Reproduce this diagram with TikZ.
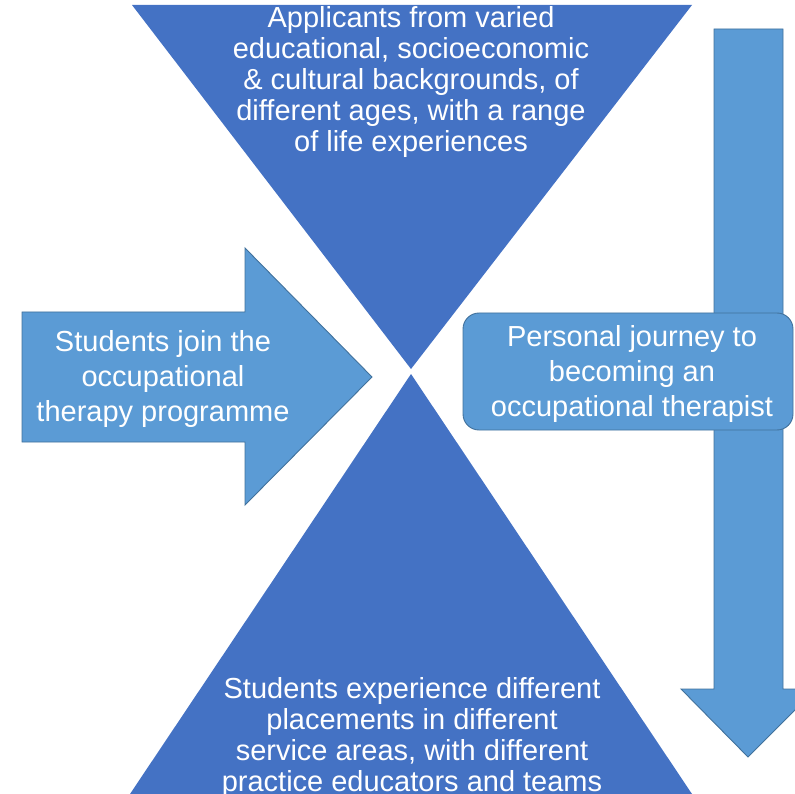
\documentclass[tikz,border=0pt]{standalone}
\usepackage{fontspec}
\setmainfont{Liberation Sans}
\definecolor{tribl}{HTML}{4472C4}
\definecolor{arrbl}{HTML}{5B9BD5}
\definecolor{edgebl}{HTML}{41719C}

\begin{document}
\begin{tikzpicture}[
  x=1pt, y=-1pt,
  tri/.style={fill=tribl},
  arr/.style={fill=arrbl, draw=edgebl, line width=0.9pt, line join=miter},
  tlbl/.style={text=white, align=center, font=\fontsize{29}{31}\selectfont},
  albl/.style={text=white, align=center, font=\fontsize{29}{35}\selectfont},
]
\useasboundingbox (0,0) rectangle (795,794);
\clip (0,0) rectangle (795,794);

\path [tri] (132,5) -- (692,5) -- (411,369) -- cycle;
\path [tri] (411,374) -- (692,794) -- (130,794) -- cycle;

\draw [arr] (22,312) -- (245,312) -- (245,248) -- (372,377)
  -- (245,505) -- (245,442) -- (22,442) -- cycle;
\draw [arr] (714,29) -- (783,29) -- (783,689) -- (816,689) -- (748,757)
  -- (681,689) -- (714,689) -- cycle;
\draw [arr, rounded corners=16pt] (463,313) rectangle (793,430);

\node [tlbl] (apptext) at (411,82) {Applicants from varied\\educational, socioeconomic\\
  \& cultural backgrounds, of\\different ages, with a range\\of life experiences};
\node [tlbl] (placetext) at (412,737) {Students experience different\\placements in different\\
  service areas, with different\\practice educators and teams};
\node [albl] (jointext) at (163,379) {Students join the\\occupational\\therapy programme};
\node [albl] (journeytext) at (632,374) {Personal journey to\\becoming an\\occupational therapist};

\end{tikzpicture}
\end{document}
